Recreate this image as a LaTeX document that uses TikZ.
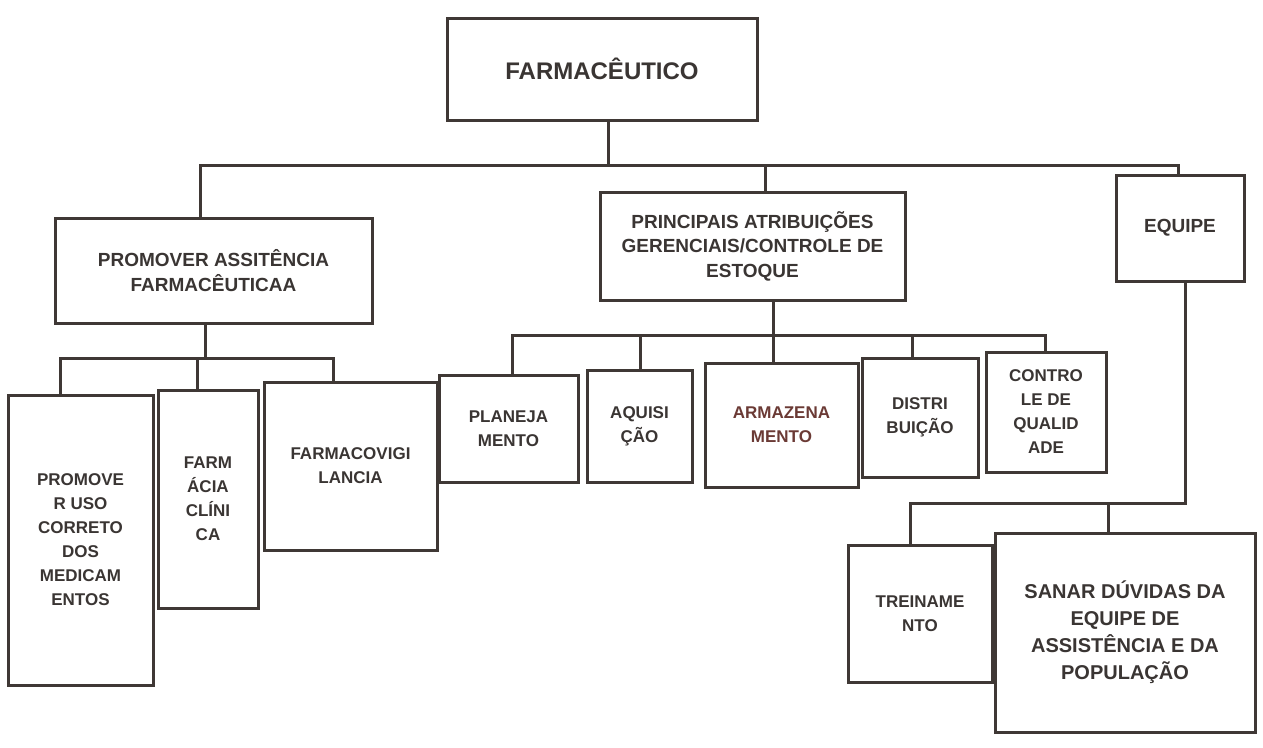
\documentclass[tikz,border=0pt]{standalone}
\usepackage{fontspec}
\setmainfont{Liberation Sans}
\definecolor{linec}{HTML}{3F3835}
\definecolor{textc}{HTML}{3A3533}
\definecolor{redc}{HTML}{6B3A35}
\tikzset{
  box/.style={draw=linec, line width=3pt, fill=white, inner sep=0pt, align=center, text=textc},
  conn/.style={draw=linec, line width=3pt, line cap=rect},
  ftop/.style={font=\bfseries\fontsize{24}{30}\selectfont},
  fmid/.style={font=\bfseries\fontsize{19}{24.5}\selectfont},
  flow/.style={font=\bfseries\fontsize{17}{24}\selectfont},
  fbig/.style={font=\bfseries\fontsize{20}{27}\selectfont},
}
\begin{document}
\begin{tikzpicture}[x=1pt,y=-1pt]
\useasboundingbox (0,0) rectangle (1263,747);
\fill[white] (0,0) rectangle (1263,747);

% connector coordinates
\coordinate (t0) at (608,165);
\coordinate (tL) at (200,165);
\coordinate (tM) at (765,165);
\coordinate (tR) at (1178,165);
\coordinate (p0) at (205,358);
\coordinate (p1) at (60,358);
\coordinate (p2) at (197,358);
\coordinate (p3) at (333,358);
\coordinate (m0) at (773,335);
\coordinate (m1) at (512,335);
\coordinate (m2) at (640,335);
\coordinate (m4) at (912,335);
\coordinate (m5) at (1045,335);
\coordinate (e0) at (1185,503);
\coordinate (e1) at (910,503);
\coordinate (e2) at (1108,503);

% nodes
\node[box, ftop, minimum width=310, minimum height=102] (farm) at (602,69) {FARMACÊUTICO};
\node[box, fmid, minimum width=317, minimum height=105] (prom) at (213.5,270.5) {PROMOVER ASSITÊNCIA\\FARMACÊUTICAA};
\node[box, fmid, minimum width=305, minimum height=108] (princ) at (752.5,246) {PRINCIPAIS ATRIBUIÇÕES\\GERENCIAIS/CONTROLE DE\\ESTOQUE};
\node[box, fmid, minimum width=128, minimum height=106] (equipe) at (1180,228) {EQUIPE};

\node[box, flow, minimum width=145, minimum height=290] (b1) at (80.5,540) {PROMOVE\\R USO\\CORRETO\\DOS\\MEDICAM\\ENTOS};
\node[box, flow, minimum width=100, minimum height=218] (b2) at (208,499) {FARM\\ÁCIA\\CLÍNI\\CA};
\node[box, flow, minimum width=173, minimum height=168] (b3) at (350.5,466) {FARMACOVIGI\\LANCIA};

\node[box, flow, minimum width=139, minimum height=107] (plan) at (508.5,428.5) {PLANEJA\\MENTO};
\node[box, flow, minimum width=105, minimum height=112] (aqui) at (639.5,426) {AQUISI\\ÇÃO};
\node[box, flow, text=redc, minimum width=153, minimum height=124] (arm) at (781.5,425) {ARMAZENA\\MENTO};
\node[box, flow, minimum width=116, minimum height=119] (dist) at (920,417.5) {DISTRI\\BUIÇÃO};
\node[box, flow, minimum width=120, minimum height=120] (ctrl) at (1046,412) {CONTRO\\LE DE\\QUALID\\ADE};

\node[box, flow, minimum width=144, minimum height=137] (trein) at (920,613.5) {TREINAME\\NTO};
\node[box, fbig, minimum width=260, minimum height=199] (sanar) at (1125,632.5) {SANAR DÚVIDAS DA\\EQUIPE DE\\ASSISTÊNCIA E DA\\POPULAÇÃO};

% connectors
\draw[conn] (farm.south -| t0) -- (t0);
\draw[conn] (tL |- prom.north) -- (tL) -- (tR) -- (tR |- equipe.north);
\draw[conn] (tM) -- (tM |- princ.north);

\draw[conn] (prom.south -| p0) -- (p0);
\draw[conn] (p1 |- b1.north) -- (p1) -- (p3) -- (p3 |- b3.north);
\draw[conn] (p2) -- (p2 |- b2.north);

\draw[conn] (princ.south -| m0) -- (m0 |- arm.north);
\draw[conn] (m1 |- plan.north) -- (m1) -- (m5) -- (m5 |- ctrl.north);
\draw[conn] (m2) -- (m2 |- aqui.north);
\draw[conn] (m4) -- (m4 |- dist.north);

\draw[conn] (equipe.south -| e0) -- (e0);
\draw[conn] (e1 |- trein.north) -- (e1) -- (e0);
\draw[conn] (e2) -- (e2 |- sanar.north);
\end{tikzpicture}
\end{document}
